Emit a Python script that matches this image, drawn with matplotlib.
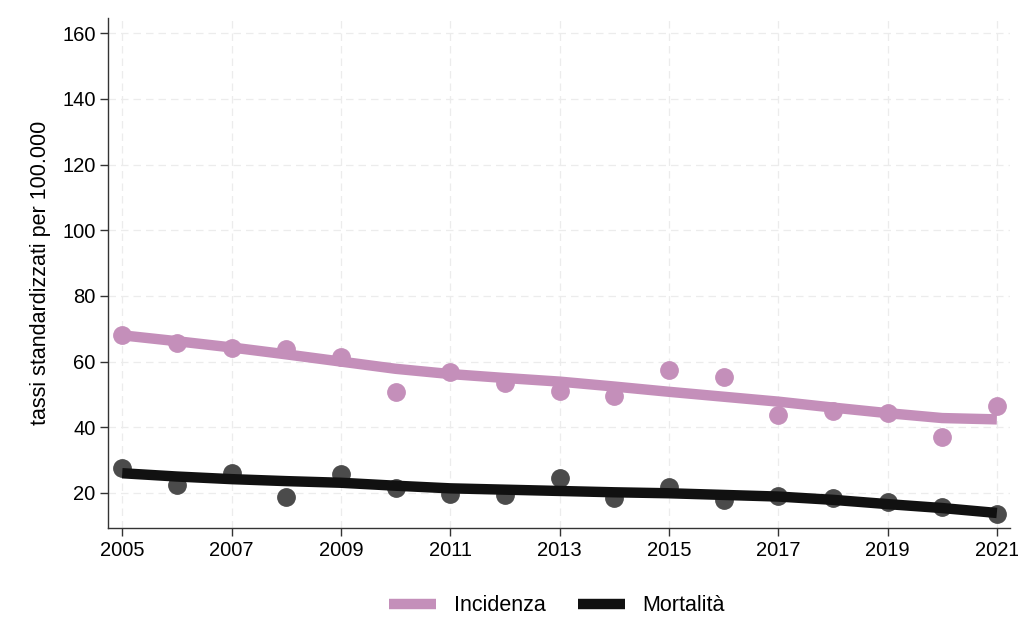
import matplotlib
matplotlib.use('Agg')
import matplotlib.pyplot as plt
import numpy as np

plt.rcParams['font.family'] = ['Liberation Sans', 'DejaVu Sans']

anni = np.arange(2005, 2022)

# tassi osservati
incidenza = [68.1, 65.6, 64.1, 63.8, 61.3, 50.7, 56.8, 53.5, 51.0, 49.5,
             57.4, 55.3, 43.7, 44.9, 44.3, 37.0, 46.5]
mortalita = [27.6, 22.4, 26.1, 18.8, 25.8, 21.5, 19.7, 19.4, 24.6, 18.5,
             21.8, 17.9, 19.1, 18.5, 17.3, 15.7, 13.6]

# curve di tendenza (lisciate)
incidenza_fit = [68.0, 66.2, 64.3, 62.2, 60.0, 57.8, 56.2, 55.0, 53.9, 52.4,
                 50.8, 49.3, 47.8, 46.0, 44.3, 42.8, 42.4]
mortalita_fit = [26.0, 25.0, 24.2, 23.6, 23.1, 22.2, 21.4, 21.0, 20.6, 20.2,
                 19.9, 19.4, 18.9, 17.9, 16.6, 15.4, 13.9]

col_inc = '#c48fba'
col_mor = '#111111'
col_mor_pt = '#4b4b4b'
fs = 15.5

fig = plt.figure(figsize=(10.18, 6.22), dpi=100)
ax = fig.add_axes([0.1061, 0.151, 0.886, 0.820])

ax.plot(anni, incidenza, 'o', color=col_inc, ms=12.5, zorder=3)
ax.plot(anni, incidenza_fit, '-', color=col_inc, lw=7.5, label='Incidenza', zorder=4,
        solid_capstyle='butt')
ax.plot(anni, mortalita, 'o', color=col_mor_pt, ms=12.5, zorder=3)
ax.plot(anni, mortalita_fit, '-', color=col_mor, lw=7.5, label='Mortalità', zorder=4,
        solid_capstyle='butt')

ax.set_xlim(2004.74, 2021.24)
ax.set_ylim(9.3, 164.6)
ax.set_xticks(np.arange(2005, 2022, 2))
ax.set_yticks(np.arange(20, 161, 20))
ax.tick_params(axis='both', labelsize=14.5, direction='out', length=6, width=1.0,
               color='#333333', pad=3)
ax.set_ylabel('tassi standardizzati per 100.000', fontsize=fs, labelpad=8)

ax.grid(True, color='#ececec', linestyle=(0, (6, 4)), linewidth=0.9)
ax.set_axisbelow(True)
for s in ['top', 'right']:
    ax.spines[s].set_visible(False)
for s in ['left', 'bottom']:
    ax.spines[s].set_color('#333333')
    ax.spines[s].set_linewidth(1.0)

fig.legend(loc='center', bbox_to_anchor=(0.547, 0.026), ncol=2, frameon=False,
           fontsize=fs, handlelength=2.2, columnspacing=1.5)

fig.savefig('out.png', dpi=100)
